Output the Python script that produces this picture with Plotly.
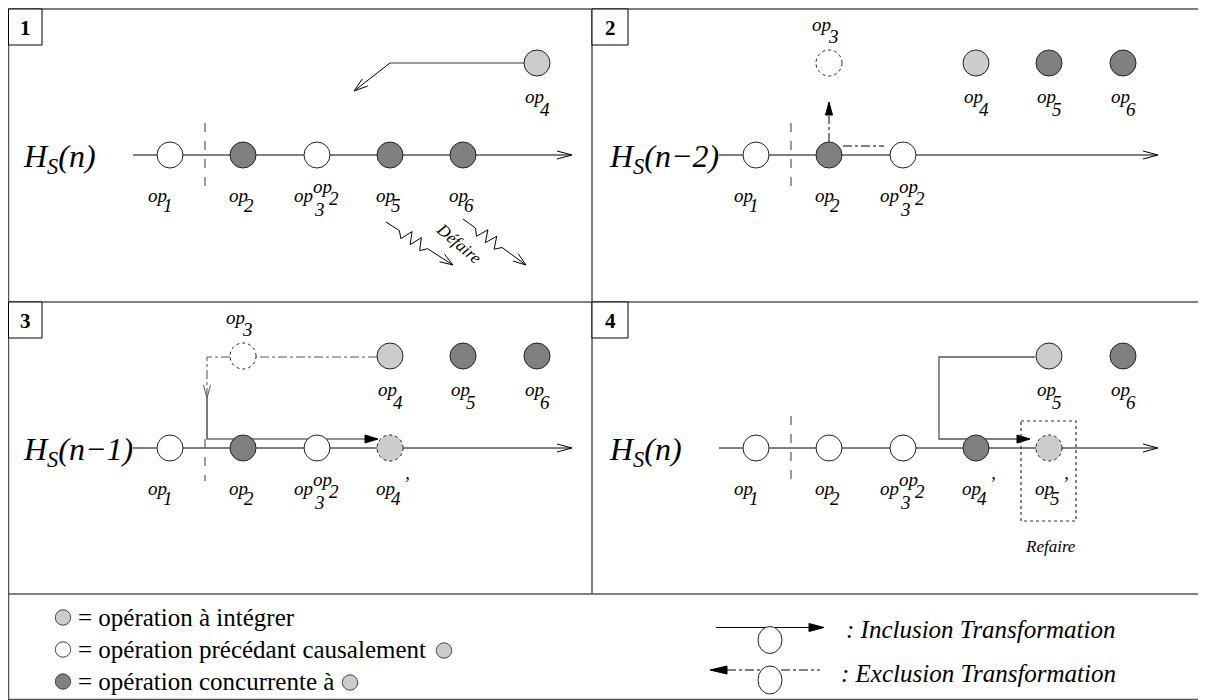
import math
import plotly.graph_objects as go

W, H = 1206, 700
OFF = 8  # page margin of the html body, so data coords == screen pixels
FONT = "Liberation Serif, Times New Roman, serif"

# ---------------- data ----------------
panel_ids = ["1", "2", "3", "4"]
history_suffix = ["(n)", "(n−2)", "(n−1)", "(n)"]

# nodes on the history line: (slot, kind, subscript, decoration)
line_nodes = [
    [(0, "prec", "1", ""), (1, "conc", "2", ""), (2, "prec", "3", "sup"), (3, "conc", "5", ""), (4, "conc", "6", "")],
    [(0, "prec", "1", ""), (1, "conc", "2", ""), (2, "prec", "3", "sup")],
    [(0, "prec", "1", ""), (1, "conc", "2", ""), (2, "prec", "3", "sup"), (3, "ghost", "4", "prime")],
    [(0, "prec", "1", ""), (1, "prec", "2", ""), (2, "prec", "3", "sup"), (3, "conc", "4", "prime"), (4, "ghost", "5", "prime")],
]
# nodes waiting above the line: (slot, kind, subscript, label side)
queue_nodes = [
    [(5, "integ", "4", "below")],
    [(1, "undone", "3", "above"), (3, "integ", "4", "below"), (4, "conc", "5", "below"), (5, "conc", "6", "below")],
    [(1, "undone", "3", "above"), (3, "integ", "4", "below"), (4, "conc", "5", "below"), (5, "conc", "6", "below")],
    [(4, "integ", "5", "below"), (5, "conc", "6", "below")],
]
sup_text = "op"
sup_sub = "2"

legend_kinds = ["integ", "prec", "conc"]
legend_texts = ["= opération à intégrer", "= opération précédant causalement", "= opération concurrente à"]
legend_tail_kind = [None, "integ", "integ"]
transform_texts = [": Inclusion Transformation", ": Exclusion Transformation"]
undo_text = "Défaire"
redo_text = "Refaire"

# ---------------- geometry / style ----------------
panel_dx = [0, 586, 0, 586]
panel_dy = [0, 0, 293, 293]
slot_x = [170, 243, 317, 390, 463, 537]
LINE_Y = 155
QUEUE_Y = 63
R = 13
OPSIZE = 19
LEGSIZE = 25
fill_of = {"prec": "#ffffff", "conc": "#808080", "integ": "#cccccc", "ghost": "#cccccc", "undone": "#ffffff"}
dotted_kinds = {"ghost", "undone"}
label_shift = {0: -8}
legend_row_y = [617.5, 649.5, 681.5]
legend_tail_x = [None, 444, 350]
FRAME = "#555555"
LEFT = 8.5

shapes = []
annotations = []


def line(x0, y0, x1, y1, color="black", width=1, dash="solid"):
    shapes.append(dict(type="line", xref="x", yref="y", x0=x0, y0=y0, x1=x1, y1=y1,
                       line=dict(color=color, width=width, dash=dash), layer="above"))


def path(pts, color="black", width=1, dash="solid", fill=None, close=False):
    d = "M " + " L ".join(f"{x:.2f},{y:.2f}" for x, y in pts)
    if close:
        d += " Z"
    s = dict(type="path", xref="x", yref="y", path=d,
             line=dict(color=color, width=width, dash=dash), layer="above")
    if fill:
        s["fillcolor"] = fill
    shapes.append(s)


def ellipse(cx, cy, rx, ry, fill, dotted=False, color="#222222", width=1):
    shapes.append(dict(type="circle", xref="x", yref="y", x0=cx - rx, x1=cx + rx, y0=cy - ry, y1=cy + ry,
                       fillcolor=fill, line=dict(color=color, width=width, dash="dot" if dotted else "solid"),
                       layer="above"))


def head(tx, ty, fx, fy, length=12, half=4.5, filled=False, color="black"):
    ang = math.atan2(ty - fy, tx - fx)
    bx, by = tx - length * math.cos(ang), ty - length * math.sin(ang)
    px, py = -math.sin(ang) * half, math.cos(ang) * half
    a = (bx + px, by + py)
    b = (bx - px, by - py)
    if filled:
        path([a, (tx, ty), b], color=color, width=1, fill=color, close=True)
    else:
        path([a, (tx, ty), b], color=color, width=1)


def text(x, y, s, size=OPSIZE, xanchor="center", yanchor="middle", angle=0, color="black"):
    annotations.append(dict(x=x, y=y, xref="x", yref="y", text=s, showarrow=False,
                            font=dict(family=FONT, size=size, color=color),
                            xanchor=xanchor, yanchor=yanchor, textangle=angle, borderpad=0))


def op_label(cx, ty, sub, deco="", sub_dy=10):
    if deco == "sup":
        text(cx - 3, ty, "<i>op</i>", xanchor="right")
        text(cx - 4, ty + 14, f"<i>{sub}</i>", xanchor="left")
        text(cx - 5, ty - 9, f"<i>{sup_text}</i>", xanchor="left")
        text(cx + 11, ty + 3, f"<i>{sup_sub}</i>", xanchor="left")
        return
    text(cx + 6, ty, "<i>op</i>", xanchor="right")
    text(cx + 0, ty + sub_dy, f"<i>{sub}</i>", xanchor="left")
    if deco == "prime":
        text(cx + 16, ty - 5, "<i>’</i>", xanchor="center")


# ---------------- frame ----------------
shapes.append(dict(type="rect", xref="x", yref="y", x0=LEFT, y0=9, x1=1206, y1=699.5,
                   line=dict(color=FRAME, width=1.5), layer="above"))
line(592, 9, 592, 594, color=FRAME, width=1.5)
line(LEFT, 302, 1206, 302, color=FRAME, width=1.5)
line(LEFT, 594, 1206, 594, color=FRAME, width=1.5)

# ---------------- panels ----------------
for p in range(4):
    ox, oy = panel_dx[p], panel_dy[p]
    x0 = LEFT if ox == 0 else ox + 6
    shapes.append(dict(type="rect", xref="x", yref="y", x0=x0, y0=oy + 9, x1=ox + 42, y1=oy + 45,
                       line=dict(color="black", width=1), fillcolor="white", layer="above"))
    text((x0 + ox + 42) / 2, oy + 28, f"<b>{panel_ids[p]}</b>", size=21)
    text(ox + 22, oy + LINE_Y + 3, f"<i>H<sub>S</sub>{history_suffix[p]}</i>", size=32, xanchor="left")
    ly = oy + LINE_Y
    line(ox + 133, ly, ox + 571, ly)
    head(ox + 572, ly, ox + 500, ly, length=15, half=4)
    cut_top = ly - 32 if p != 2 else ly - 9
    line(ox + 205, cut_top, ox + 205, ly + 33, color="#666666", width=1.3, dash="dash")

# panel 1: op4 incoming
line(524, QUEUE_Y, 390, QUEUE_Y, color="#777777", width=1.5)
line(390, QUEUE_Y, 356, 89.5)
head(354, 91, 390, QUEUE_Y, length=14, half=4.5)


def zigzag(x0, y0, x1, y1, teeth=3, amp=6):
    L = math.hypot(x1 - x0, y1 - y0)
    ux, uy = (x1 - x0) / L, (y1 - y0) / L
    nx, ny = -uy, ux
    pts = [(x0, y0)]
    t0, t1 = 0.2, 0.62
    n = teeth * 2
    for i in range(n + 1):
        t = t0 + (t1 - t0) * i / n
        s = amp * (1 if i % 2 else -1) if 0 < i < n else 0
        pts.append((x0 + ux * L * t + nx * s, y0 + uy * L * t + ny * s))
    pts.append((x1, y1))
    path(pts)
    head(x1, y1, pts[-2][0], pts[-2][1], length=13, half=4.5)


zigzag(386, 222, 453, 265)
zigzag(463, 219, 526, 265)
text(459, 243, f"<i>{undo_text}</i>", size=17, angle=40)

# panel 2: exclusion of op3
line(829, 142, 829, 116, dash="dashdot")
head(829, 102, 829, 130, length=13, half=3.5, filled=True)
line(843, 146, 884, 146, dash="dashdot")

# panel 3: exclusion then inclusion
path([(377, 357), (256, 357)], color="#555555", dash="dashdot")
path([(230, 357), (207, 357), (207, 397)], color="#555555", dash="dashdot")
head(207, 398, 207, 360, length=13, half=3.5, color="#555555")
path([(207, 398), (207, 439), (366, 439)], color="#222222", width=1.2)
head(378, 439, 300, 439, length=13, half=4, filled=True)

# panel 4: inclusion of op5
path([(1035, 357), (939, 357), (939, 439), (1018, 439)], color="#555555", width=1.3)
head(1030, 439, 960, 439, length=13, half=4, filled=True)
shapes.append(dict(type="rect", xref="x", yref="y", x0=1021, y0=421, x1=1076, y1=521,
                   line=dict(color="#333333", width=1.2, dash="dot"), layer="above"))
text(1050, 546, f"<i>{redo_text}</i>", size=17)

# nodes
for p in range(4):
    ox, oy = panel_dx[p], panel_dy[p]
    for slot, kind, sub, deco in line_nodes[p]:
        cx = ox + slot_x[slot]
        cy = oy + LINE_Y
        ellipse(cx, cy, R, R, fill_of[kind], dotted=kind in dotted_kinds)
        op_label(cx + label_shift.get(slot, 0), cy + 40, sub, deco)
    for slot, kind, sub, side in queue_nodes[p]:
        cx = ox + slot_x[slot]
        cy = oy + QUEUE_Y
        ellipse(cx, cy, R, R, fill_of[kind], dotted=kind in dotted_kinds)
        if side == "below":
            op_label(cx + 2, cy + 33, sub, sub_dy=13)
        else:
            text(cx + 3, cy - 39, "<i>op</i>", xanchor="right")
            text(cx - 2, cy - 27, f"<i>{sub}</i>", xanchor="left")

# ---------------- legend ----------------
for i in range(3):
    y = legend_row_y[i]
    ellipse(63, y, 7.7, 7.7, fill_of[legend_kinds[i]], color="#444444")
    text(77, y, legend_texts[i], size=LEGSIZE, xanchor="left")
    if legend_tail_kind[i]:
        ellipse(legend_tail_x[i], y + 1, 7.7, 7.7, fill_of[legend_tail_kind[i]], color="#444444")

# inclusion transformation
line(716, 627.5, 810, 627.5)
head(824, 627.5, 790, 627.5, length=15, half=4, filled=True)
ellipse(770, 640, 12, 13.5, "white")
text(845, 629, f"<i>{transform_texts[0]}</i>", size=LEGSIZE, xanchor="left")
# exclusion transformation
line(727, 670, 820, 670, dash="dashdot")
head(710, 670, 740, 670, length=17, half=4, filled=True)
ellipse(770, 680, 12, 14, "white")
text(840, 673, f"<i>{transform_texts[1]}</i>", size=LEGSIZE, xanchor="left")

fig = go.Figure()
fig.add_trace(go.Scatter(x=[OFF, W + OFF], y=[OFF, H + OFF], mode="markers", marker=dict(opacity=0),
                         hoverinfo="skip", showlegend=False))
fig.update_layout(
    width=W, height=H, margin=dict(l=0, r=0, t=0, b=0),
    paper_bgcolor="white", plot_bgcolor="white",
    xaxis=dict(range=[OFF, W + OFF], visible=False, fixedrange=True),
    yaxis=dict(range=[H + OFF, OFF], visible=False, fixedrange=True),
    shapes=shapes, annotations=annotations, showlegend=False,
)
fig.write_html("out.html")
